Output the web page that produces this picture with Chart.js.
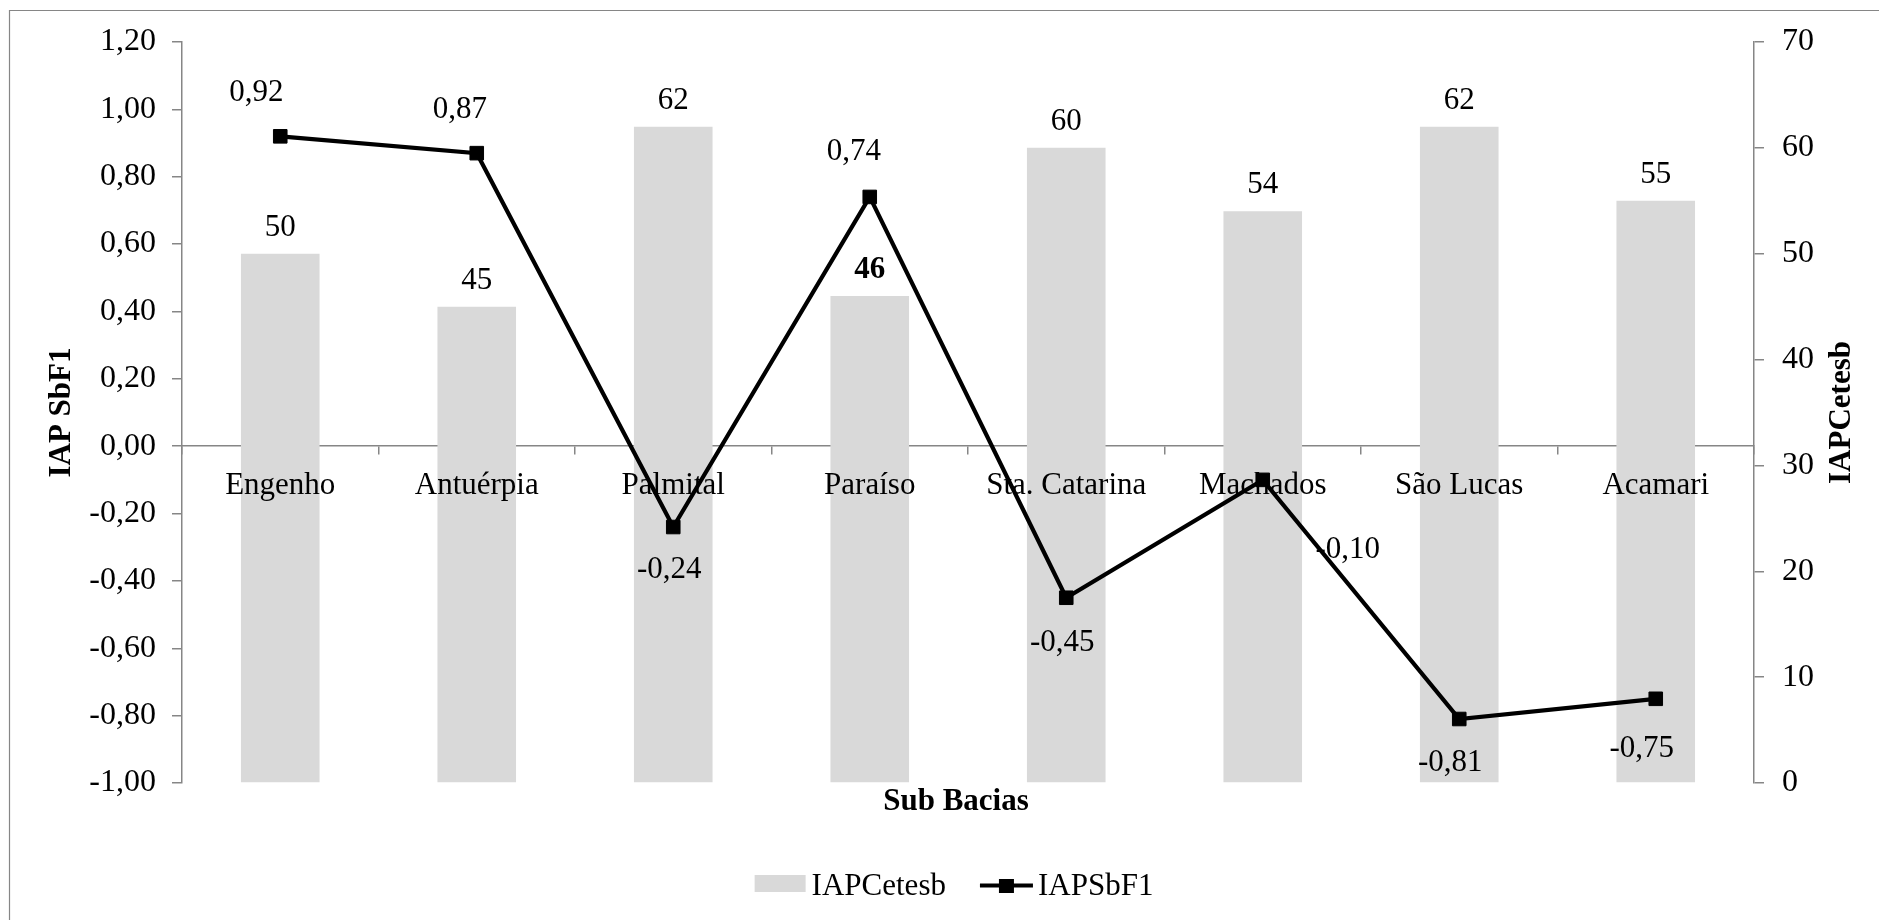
<!DOCTYPE html>
<html>
<head>
<meta charset="utf-8">
<script src="https://cdn.jsdelivr.net/npm/chart.js@4.4.1/dist/chart.umd.min.js"></script>
<style>
  html, body { margin: 0; padding: 0; background: #ffffff; }
  #wrap { width: 1879px; height: 920px; position: relative; }
</style>
</head>
<body>
<div id="wrap"><canvas id="chart" width="1879" height="920"></canvas></div>
<script>
// Sub-basins and their two pollution indices
const subBacias = ['Engenho', 'Antuérpia', 'Palmital', 'Paraíso', 'Sta. Catarina', 'Machados', 'São Lucas', 'Acamari'];
const iapCetesb = [50, 45, 62, 46, 60, 54, 62, 55];
const iapSbF1 = [0.92, 0.87, -0.24, 0.74, -0.45, -0.10, -0.81, -0.75];

// Axis ranges
const leftAxis = { min: -1.0, max: 1.2, step: 0.2 };
const rightAxis = { min: 0, max: 70, step: 10 };

// Label placement around each line point: [dx, baseline dy]
const sbf1LabelOffset = [[-24, -35], [-17, -35], [-4, 51], [-16, -37], [-4, 53], [85, 78], [-9, 52], [-14, 58]];
// Font weight of each bar value label
const cetesbLabelWeight = ['normal', 'normal', 'normal', 'bold', 'normal', 'normal', 'normal', 'normal'];

const FONT = "'Liberation Serif', 'Times New Roman', serif";
const AXIS_GREY = '#868686';
const BAR_GREY = '#d9d9d9';

const fmt2 = v => v.toFixed(2).replace('.', ',');

// Frame, value labels, right-hand title, x title and legend
const decorations = {
  id: 'decorations',
  beforeDraw(chart) {
    const ctx = chart.ctx;
    ctx.save();
    ctx.fillStyle = '#ffffff';
    ctx.fillRect(0, 0, chart.width, chart.height);
    ctx.strokeStyle = AXIS_GREY;
    ctx.lineWidth = 1.2;
    ctx.beginPath();
    ctx.moveTo(9.5, chart.height);
    ctx.lineTo(9.5, 10.5);
    ctx.lineTo(chart.width, 10.5);
    ctx.stroke();
    ctx.restore();
  },
  beforeDatasetDraw(chart, args) {
    // category names sit above the bars but below the line
    if (args.index !== 1) return;
    const sx = chart.scales.x;
    const items = sx.getLabelItems(chart.chartArea);
    items.forEach(it => { it.options.color = '#000000'; });
    sx.drawLabels(chart.chartArea);
    items.forEach(it => { it.options.color = 'rgba(0,0,0,0)'; });
  },
  afterDatasetsDraw(chart) {
    const ctx = chart.ctx;
    ctx.save();
    ctx.fillStyle = '#000000';
    ctx.textAlign = 'center';
    ctx.textBaseline = 'alphabetic';
    chart.getDatasetMeta(0).data.forEach((el, i) => {
      ctx.font = cetesbLabelWeight[i] + ' 31px ' + FONT;
      ctx.fillText(String(iapCetesb[i]), el.x, el.y - 18);
    });
    ctx.font = '31px ' + FONT;
    chart.getDatasetMeta(1).data.forEach((el, i) => {
      const [dx, dy] = sbf1LabelOffset[i];
      ctx.fillText(fmt2(iapSbF1[i]), el.x + dx, el.y + dy);
    });
    ctx.restore();
  },
  afterDraw(chart) {
    const ctx = chart.ctx;
    const area = chart.chartArea;
    ctx.save();
    ctx.fillStyle = '#000000';

    // right axis title, reading bottom to top
    ctx.font = 'bold 31px ' + FONT;
    ctx.textAlign = 'center';
    ctx.textBaseline = 'middle';
    ctx.translate(1842, (area.top + area.bottom) / 2);
    ctx.rotate(-Math.PI / 2);
    ctx.fillText('IAPCetesb', 0, 0);
    ctx.setTransform(1, 0, 0, 1, 0, 0);

    // x axis title
    ctx.textBaseline = 'alphabetic';
    ctx.fillText('Sub Bacias', 956, 810);

    // legend
    const ds = chart.data.datasets;
    ctx.font = '31px ' + FONT;
    ctx.textAlign = 'left';
    const w0 = ctx.measureText(ds[0].label).width;
    const w1 = ctx.measureText(ds[1].label).width;
    const boxW = 51, lineW = 53, gapBox = 6, gapLine = 5, gapItems = 34;
    const total = boxW + gapBox + w0 + gapItems + lineW + gapLine + w1;
    let x = 954 - total / 2;
    const baseY = 895;
    ctx.fillStyle = ds[0].backgroundColor;
    ctx.fillRect(x, 875, boxW, 17);
    x += boxW + gapBox;
    ctx.fillStyle = '#000000';
    ctx.fillText(ds[0].label, x, baseY);
    x += w0 + gapItems;
    ctx.strokeStyle = ds[1].borderColor;
    ctx.lineWidth = 4;
    ctx.beginPath();
    ctx.moveTo(x, 885.5);
    ctx.lineTo(x + lineW, 885.5);
    ctx.stroke();
    ctx.fillRect(x + lineW / 2 - 7.5, 879, 15, 14);
    x += lineW + gapLine;
    ctx.fillText(ds[1].label, x, baseY);
    ctx.restore();
  }
};

new Chart(document.getElementById('chart'), {
  type: 'bar',
  data: {
    labels: subBacias,
    datasets: [
      {
        type: 'bar',
        label: 'IAPCetesb',
        data: iapCetesb,
        yAxisID: 'y1',
        backgroundColor: BAR_GREY,
        borderWidth: 0,
        barPercentage: 0.4,
        categoryPercentage: 1.0,
        order: 1
      },
      {
        type: 'line',
        label: 'IAPSbF1',
        data: iapSbF1,
        yAxisID: 'y',
        borderColor: '#000000',
        borderWidth: 4.2,
        tension: 0,
        pointStyle: 'rect',
        pointRadius: 9.6,
        pointBackgroundColor: '#000000',
        pointBorderColor: '#000000',
        pointBorderWidth: 1,
        clip: false,
        order: 0
      }
    ]
  },
  options: {
    responsive: false,
    animation: false,
    devicePixelRatio: 1,
    events: [],
    layout: { padding: { left: 0, right: 0, top: 42, bottom: 137 } },
    plugins: {
      legend: { display: false },
      title: { display: false },
      tooltip: { enabled: false }
    },
    scales: {
      x: {
        type: 'category',
        position: { y: 0 },
        offset: true,
        grid: { offset: true, drawOnChartArea: false, drawTicks: true, tickLength: 8, color: AXIS_GREY, lineWidth: 1.5 },
        border: { display: true, color: AXIS_GREY, width: 1.5 },
        ticks: { color: 'rgba(0,0,0,0)', font: { family: FONT, size: 31 }, padding: 13, maxRotation: 0, autoSkip: false }
      },
      y: {
        type: 'linear',
        position: 'left',
        min: leftAxis.min,
        max: leftAxis.max,
        afterFit(scale) { scale.width = 182; },
        grid: { drawOnChartArea: false, drawTicks: true, tickLength: 10, color: AXIS_GREY, lineWidth: 1.5 },
        border: { display: true, color: AXIS_GREY, width: 1.5 },
        ticks: {
          stepSize: leftAxis.step,
          color: '#000000',
          padding: 16,
          font: { family: FONT, size: 32 },
          callback: v => fmt2(v)
        },
        title: {
          display: true,
          text: 'IAP SbF1',
          color: '#000000',
          font: { family: FONT, size: 31, weight: 'bold' },
          padding: { top: 43, bottom: 0 }
        }
      },
      y1: {
        type: 'linear',
        position: 'right',
        min: rightAxis.min,
        max: rightAxis.max,
        afterFit(scale) { scale.width = 125; },
        grid: { drawOnChartArea: false, drawTicks: true, tickLength: 10, color: AXIS_GREY, lineWidth: 1.5 },
        border: { display: true, color: AXIS_GREY, width: 1.5 },
        ticks: {
          stepSize: rightAxis.step,
          color: '#000000',
          padding: 18,
          font: { family: FONT, size: 32 }
        }
      }
    }
  },
  plugins: [decorations]
});
</script>
</body>
</html>
